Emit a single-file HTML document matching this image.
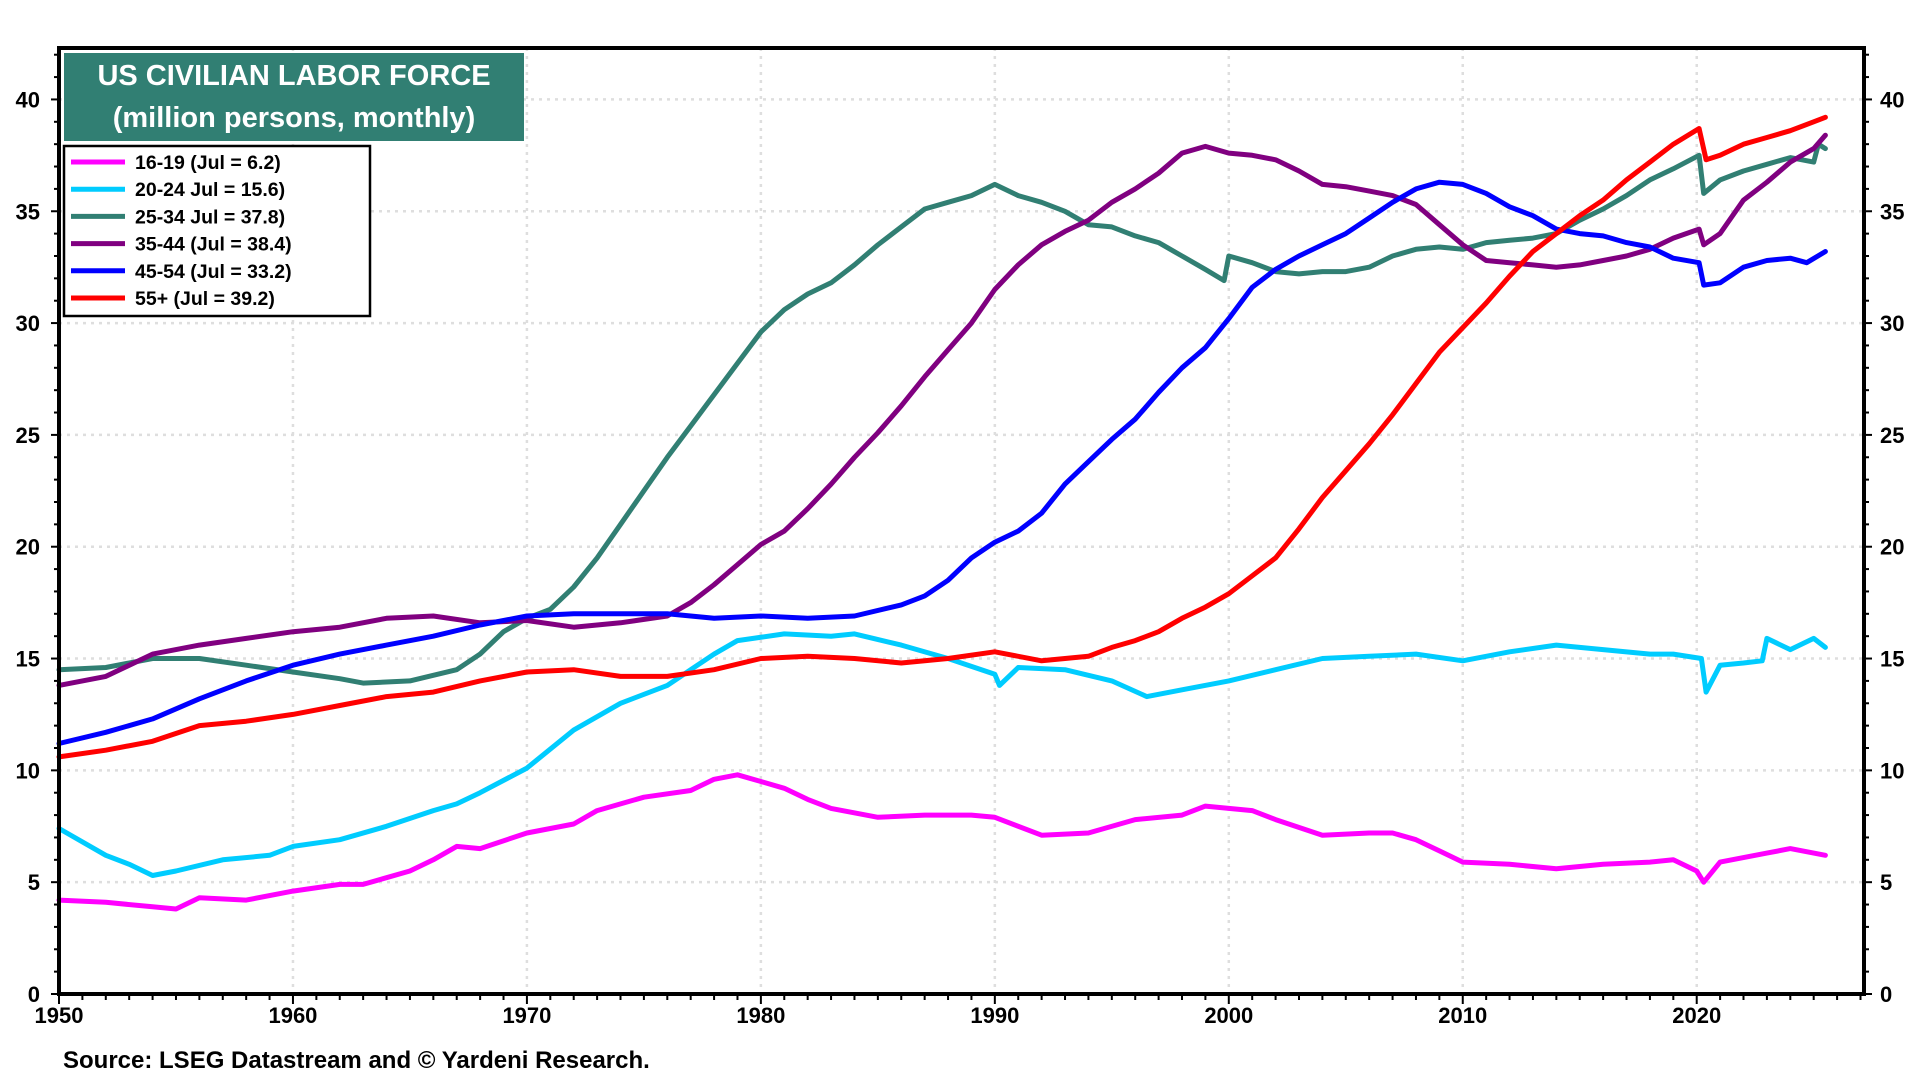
<!DOCTYPE html>
<html><head><meta charset="utf-8">
<style>
html,body{margin:0;padding:0;background:#fff;}
svg{display:block;font-family:"Liberation Sans",Arial,sans-serif;}
</style></head>
<body>
<svg id="chart" width="1920" height="1080" viewBox="0 0 1920 1080" xmlns="http://www.w3.org/2000/svg">
<rect x="0" y="0" width="1920" height="1080" fill="#fff"/>
<g id="grid"></g>
<g id="series"></g>
<g id="axes"></g>
<rect x="64" y="53" width="460" height="88" fill="#317f73"/>
<text x="294" y="85" fill="#fff" font-size="29" font-weight="bold" text-anchor="middle">US CIVILIAN LABOR FORCE</text>
<text x="294" y="127" fill="#fff" font-size="29" font-weight="bold" text-anchor="middle">(million persons, monthly)</text>
<g id="legend"></g>
<text x="63" y="1068" font-size="24" font-weight="bold">Source: LSEG Datastream and © Yardeni Research.</text>
</svg>
<script>
const yearTicks=[1950,1960,1970,1980,1990,2000,2010,2020];
const valueTicks=[0,5,10,15,20,25,30,35,40];
const seriesNames=["16-19 (Jul = 6.2)","20-24 Jul = 15.6)","25-34 Jul = 37.8)","35-44 (Jul = 38.4)","45-54 (Jul = 33.2)","55+ (Jul = 39.2)"];
const seriesColors=["#ff00ff","#00ccff","#317f73","#800080","#0000ff","#ff0000"];
const t1619=[[1950,4.2],[1952,4.1],[1954,3.9],[1955,3.8],[1956,4.3],[1958,4.2],[1960,4.6],[1962,4.9],[1963,4.9],[1965,5.5],[1966,6.0],[1967,6.6],[1968,6.5],[1970,7.2],[1972,7.6],[1973,8.2],[1975,8.8],[1977,9.1],[1978,9.6],[1979,9.8],[1980,9.5],[1981,9.2],[1982,8.7],[1983,8.3],[1985,7.9],[1987,8.0],[1989,8.0],[1990,7.9],[1992,7.1],[1994,7.2],[1996,7.8],[1998,8.0],[1999,8.4],[2001,8.2],[2002,7.8],[2004,7.1],[2006,7.2],[2007,7.2],[2008,6.9],[2009,6.4],[2010,5.9],[2012,5.8],[2014,5.6],[2016,5.8],[2018,5.9],[2019,6.0],[2020,5.5],[2020.3,5.0],[2021,5.9],[2023,6.3],[2024,6.5],[2025.5,6.2]];
const t2024=[[1950,7.4],[1952,6.2],[1953,5.8],[1954,5.3],[1955,5.5],[1957,6.0],[1959,6.2],[1960,6.6],[1962,6.9],[1964,7.5],[1966,8.2],[1967,8.5],[1968,9.0],[1970,10.1],[1972,11.8],[1974,13.0],[1976,13.8],[1977,14.5],[1978,15.2],[1979,15.8],[1981,16.1],[1983,16.0],[1984,16.1],[1986,15.6],[1988,15.0],[1990,14.3],[1990.2,13.8],[1991,14.6],[1993,14.5],[1995,14.0],[1996.5,13.3],[1998,13.6],[2000,14.0],[2002,14.5],[2004,15.0],[2006,15.1],[2008,15.2],[2010,14.9],[2012,15.3],[2014,15.6],[2016,15.4],[2018,15.2],[2019,15.2],[2020.2,15.0],[2020.4,13.5],[2021,14.7],[2022,14.8],[2022.8,14.9],[2023,15.9],[2024,15.4],[2025,15.9],[2025.5,15.5]];
const t2534=[[1950,14.5],[1952,14.6],[1954,15.0],[1956,15.0],[1958,14.7],[1960,14.4],[1962,14.1],[1963,13.9],[1965,14.0],[1967,14.5],[1968,15.2],[1969,16.2],[1970,16.8],[1971,17.2],[1972,18.2],[1973,19.5],[1974,21.0],[1975,22.5],[1976,24.0],[1977,25.4],[1978,26.8],[1979,28.2],[1980,29.6],[1981,30.6],[1982,31.3],[1983,31.8],[1984,32.6],[1985,33.5],[1986,34.3],[1987,35.1],[1988,35.4],[1989,35.7],[1990,36.2],[1991,35.7],[1992,35.4],[1993,35.0],[1994,34.4],[1995,34.3],[1996,33.9],[1997,33.6],[1998,33.0],[1999,32.4],[1999.8,31.9],[2000,33.0],[2001,32.7],[2002,32.3],[2003,32.2],[2004,32.3],[2005,32.3],[2006,32.5],[2007,33.0],[2008,33.3],[2009,33.4],[2010,33.3],[2011,33.6],[2012,33.7],[2013,33.8],[2014,34.0],[2015,34.6],[2016,35.1],[2017,35.7],[2018,36.4],[2019,36.9],[2020.1,37.5],[2020.3,35.8],[2021,36.4],[2022,36.8],[2023,37.1],[2024,37.4],[2025,37.2],[2025.2,38.0],[2025.5,37.8]];
const t3544=[[1950,13.8],[1952,14.2],[1954,15.2],[1956,15.6],[1958,15.9],[1960,16.2],[1962,16.4],[1964,16.8],[1966,16.9],[1968,16.6],[1970,16.7],[1972,16.4],[1974,16.6],[1976,16.9],[1977,17.5],[1978,18.3],[1979,19.2],[1980,20.1],[1981,20.7],[1982,21.7],[1983,22.8],[1984,24.0],[1985,25.1],[1986,26.3],[1987,27.6],[1988,28.8],[1989,30.0],[1990,31.5],[1991,32.6],[1992,33.5],[1993,34.1],[1994,34.6],[1995,35.4],[1996,36.0],[1997,36.7],[1998,37.6],[1999,37.9],[2000,37.6],[2001,37.5],[2002,37.3],[2003,36.8],[2004,36.2],[2005,36.1],[2006,35.9],[2007,35.7],[2008,35.3],[2009,34.4],[2010,33.5],[2011,32.8],[2012,32.7],[2013,32.6],[2014,32.5],[2015,32.6],[2016,32.8],[2017,33.0],[2018,33.3],[2019,33.8],[2020.1,34.2],[2020.3,33.5],[2021,34.0],[2022,35.5],[2023,36.3],[2024,37.2],[2025,37.8],[2025.5,38.4]];
const t4554=[[1950,11.2],[1952,11.7],[1954,12.3],[1956,13.2],[1958,14.0],[1960,14.7],[1962,15.2],[1964,15.6],[1966,16.0],[1968,16.5],[1970,16.9],[1972,17.0],[1974,17.0],[1976,17.0],[1978,16.8],[1980,16.9],[1982,16.8],[1984,16.9],[1986,17.4],[1987,17.8],[1988,18.5],[1989,19.5],[1990,20.2],[1991,20.7],[1992,21.5],[1993,22.8],[1994,23.8],[1995,24.8],[1996,25.7],[1997,26.9],[1998,28.0],[1999,28.9],[2000,30.2],[2001,31.6],[2002,32.4],[2003,33.0],[2004,33.5],[2005,34.0],[2006,34.7],[2007,35.4],[2008,36.0],[2009,36.3],[2010,36.2],[2011,35.8],[2012,35.2],[2013,34.8],[2014,34.2],[2015,34.0],[2016,33.9],[2017,33.6],[2018,33.4],[2019,32.9],[2020.1,32.7],[2020.3,31.7],[2021,31.8],[2022,32.5],[2023,32.8],[2024,32.9],[2024.7,32.7],[2025.5,33.2]];
const t55p=[[1950,10.6],[1952,10.9],[1954,11.3],[1956,12.0],[1958,12.2],[1960,12.5],[1962,12.9],[1964,13.3],[1966,13.5],[1968,14.0],[1970,14.4],[1972,14.5],[1974,14.2],[1976,14.2],[1978,14.5],[1980,15.0],[1982,15.1],[1984,15.0],[1986,14.8],[1988,15.0],[1990,15.3],[1992,14.9],[1994,15.1],[1995,15.5],[1996,15.8],[1997,16.2],[1998,16.8],[1999,17.3],[2000,17.9],[2001,18.7],[2002,19.5],[2003,20.8],[2004,22.2],[2005,23.4],[2006,24.6],[2007,25.9],[2008,27.3],[2009,28.7],[2010,29.8],[2011,30.9],[2012,32.1],[2013,33.2],[2014,34.0],[2015,34.8],[2016,35.5],[2017,36.4],[2018,37.2],[2019,38.0],[2020.1,38.7],[2020.4,37.3],[2021,37.5],[2022,38.0],[2023,38.3],[2024,38.6],[2025,39.0],[2025.5,39.2]];
const allSeries=[t1619,t2024,t2534,t3544,t4554,t55p];
const seriesKeys=["16-19","20-24","25-34","35-44","45-54","55-plus"];

const L=59,R=1864,T=48,B=994;
const X0=1950,X1=2027.15,Y1=42.3;
function xs(v){return L+(v-X0)/(X1-X0)*(R-L);}
function ys(v){return B-v/Y1*(B-T);}
const NS="http://www.w3.org/2000/svg";
function mk(tag,attrs,parent){const e=document.createElementNS(NS,tag);for(const k in attrs)e.setAttribute(k,attrs[k]);parent.appendChild(e);return e;}

const grid=document.getElementById('grid'),axes=document.getElementById('axes'),ser=document.getElementById('series'),leg=document.getElementById('legend');
valueTicks.forEach(v=>{
  if(v>0){const g=mk('line',{x1:L,x2:R,y1:ys(v),y2:ys(v),stroke:'#dedede','stroke-width':2.5,'stroke-dasharray':'3 5'},grid);
  
  }
  const a=mk('text',{x:40,y:ys(v)+8,'font-size':22,'font-weight':'bold','text-anchor':'end'},axes);a.textContent=v;
  
  
  const b=mk('text',{x:1880,y:ys(v)+8,'font-size':22,'font-weight':'bold','text-anchor':'start'},axes);b.textContent=v;
  
  
});
for(let v=0;v<=42;v++){
  const len=v%5===0?8:5;
  mk('line',{x1:L-len,x2:L,y1:ys(v),y2:ys(v),stroke:'#000','stroke-width':2},axes);
  mk('line',{x1:R,x2:R+len,y1:ys(v),y2:ys(v),stroke:'#000','stroke-width':2},axes);
}
yearTicks.forEach(yr=>{
  if(yr>1950){const g=mk('line',{x1:xs(yr),x2:xs(yr),y1:T,y2:B,stroke:'#dedede','stroke-width':2.5,'stroke-dasharray':'3 5'},grid);
  
  }
  const t=mk('text',{x:xs(yr),y:1023,'font-size':22,'font-weight':'bold','text-anchor':'middle'},axes);t.textContent=yr;
  
  
});
for(let yr=1950;yr<=2027;yr++){
  const len=yr%10===0?10:6;
  mk('line',{x1:xs(yr),x2:xs(yr),y1:B,y2:B+len,stroke:'#000','stroke-width':2},axes);
}
const frame=mk('rect',{x:L,y:T,width:R-L,height:B-T,fill:'none',stroke:'#000','stroke-width':4},axes);



allSeries.forEach((s,i)=>{
  const d=s.map((p,j)=>(j?'L':'M')+xs(p[0]).toFixed(1)+' '+ys(p[1]).toFixed(1)).join(' ');
  const p=mk('path',{d:d,fill:'none',stroke:seriesColors[i],'stroke-width':5,'stroke-linejoin':'round','stroke-linecap':'round'},ser);
  
  
});

const lb=mk('rect',{x:64,y:146,width:306,height:170,fill:'#fff',stroke:'#000','stroke-width':2.5},leg);


seriesNames.forEach((n,i)=>{
  const y=162+i*27.2;
  const sw=mk('line',{x1:71,x2:125,y1:y,y2:y,stroke:seriesColors[i],'stroke-width':5},leg);
  
  
  const t=mk('text',{x:135,y:y+7,'font-size':19.5,'font-weight':'bold'},leg);t.textContent=n;
  
  
});
</script>
</body></html>
